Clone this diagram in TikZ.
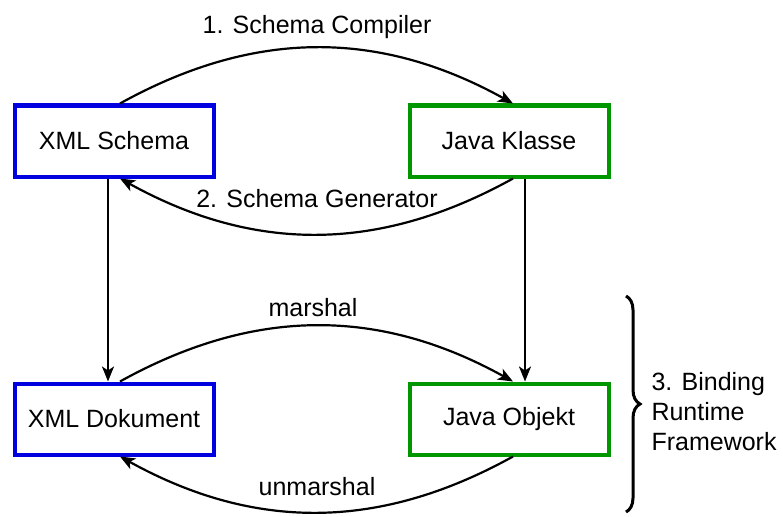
\documentclass[tikz,border=0pt]{standalone}
\usepackage{fontspec}
\setmainfont{Liberation Sans}
\usetikzlibrary{arrows.meta,decorations.pathreplacing}

\definecolor{xmlblue}{RGB}{0,0,225}
\definecolor{javagreen}{RGB}{0,150,0}

\begin{document}
\begin{tikzpicture}[x=1pt,y=-1pt,
    every node/.style={font=\fontsize{25}{30}\selectfont},
    xmlbox/.style={draw=xmlblue,line width=4pt,minimum width=199pt,minimum height=71pt},
    javabox/.style={draw=javagreen,line width=4pt,minimum width=199pt,minimum height=71pt},
    flow/.style={line width=2.2pt,-{Stealth[length=15pt,width=12pt,inset=4pt]}}]
      \useasboundingbox (0,0) rectangle (783,516);

      \node[xmlbox] (schema) at (114,141) {XML Schema};
      \node[javabox] (klasse) at (509,141) {Java Klasse};
      \node[xmlbox] (dokument) at (114,419) {XML Dokument};
      \node[javabox] (objekt) at (509,419) {Java Objekt};

      \draw[flow] ([xshift=6pt]schema.north) to[out=29,in=151] ([xshift=4pt]klasse.north);
      \draw[flow] ([xshift=4pt]klasse.south) to[out=-151,in=-29] ([xshift=6pt]schema.south);
      \draw[flow] ([xshift=6pt]dokument.north) to[out=29,in=151] ([xshift=4pt]objekt.north);
      \draw[flow] ([xshift=4pt]objekt.south) to[out=-151,in=-29] ([xshift=6pt]dokument.south);

      \draw[flow] ([xshift=-6pt]schema.south) -- ([xshift=-6pt]dokument.north);
      \draw[flow] ([xshift=16pt]klasse.south) -- ([xshift=16pt]objekt.north);

      \node (compiler) at (317,27) {1. Schema Compiler};
      \node (generator) at (317,199) {2. Schema Generator};
      \node (marshal) at (313,308) {marshal};
      \node (unmarshal) at (317,487) {unmarshal};

      \draw[line width=3pt,decorate,decoration={brace,amplitude=14pt}] (626,296) -- (626,512);
      \node[anchor=west,align=left] (runtime) at (648,412) {3. Binding\\Runtime\\Framework};
\end{tikzpicture}
\end{document}
